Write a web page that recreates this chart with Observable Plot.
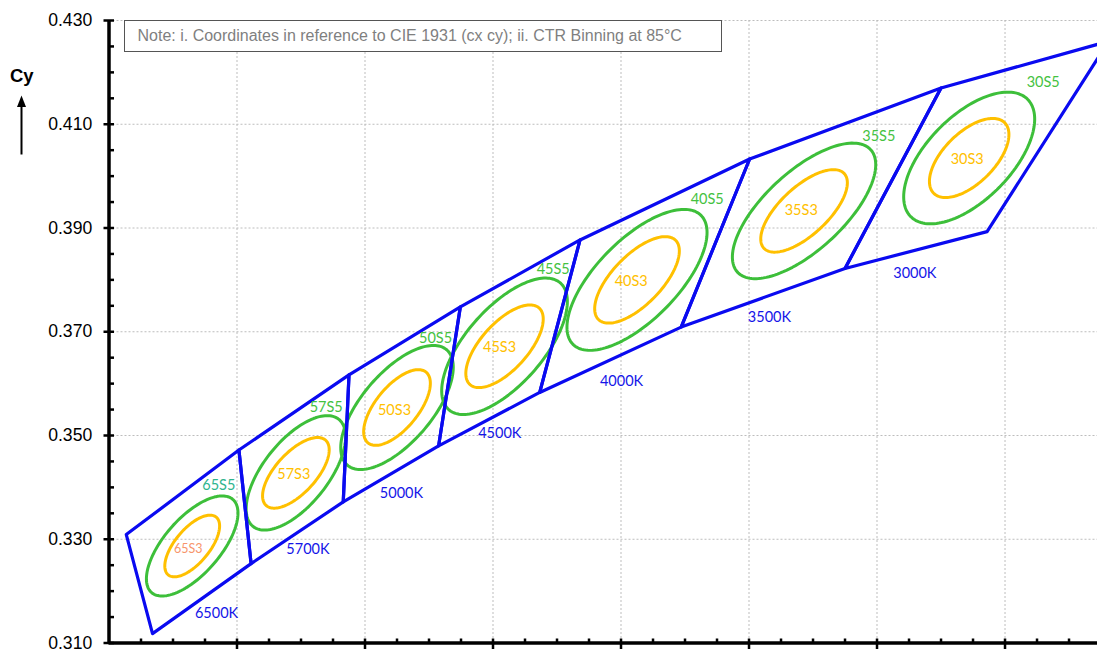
<!DOCTYPE html>
<html>
<head>
<meta charset="utf-8">
<script src="https://cdn.jsdelivr.net/npm/d3@7"></script>
<script src="https://cdn.jsdelivr.net/npm/@observablehq/plot@0.6"></script>
<style>
  html, body { margin: 0; padding: 0; background: #fff; }
  #chart { position: relative; width: 1097px; height: 650px; }
</style>
</head>
<body>
<div id="chart"></div>
<script>
// ---------- data ----------
const cctLabels = ["6500K", "5700K", "5000K", "4500K", "4000K", "3500K", "3000K"];
// quadrangle boundary vertices (shared between neighbouring bins), warm side last
const topX = [0.3027, 0.3203, 0.3375, 0.3549, 0.3736, 0.4001, 0.4300, 0.4562];
const topY = [0.3309, 0.3472, 0.3617, 0.3748, 0.3877, 0.4033, 0.4170, 0.4260];
const botX = [0.3068, 0.3222, 0.3366, 0.3515, 0.3673, 0.3894, 0.4150, 0.4372];
const botY = [0.3118, 0.3253, 0.3372, 0.3480, 0.3583, 0.3709, 0.3822, 0.3893];

// ellipse bins
const binCodes = ["65", "57", "50", "45", "40", "35", "30"];
const centerX = [0.3130, 0.3292, 0.3450, 0.3618, 0.3825, 0.4086, 0.4344];
const centerY = [0.3287, 0.3428, 0.3554, 0.3672, 0.3800, 0.3933, 0.4035];
// 3-step ellipses: semi-axes and tilt (degrees)
const a3 = [0.00674, 0.00786, 0.00823, 0.00919, 0.00978, 0.00960, 0.00883];
const b3 = [0.00287, 0.00342, 0.00355, 0.00395, 0.00419, 0.00411, 0.00432];
const t3 = [58.6, 56.3, 59.1, 56.5, 54.6, 51.7, 54.6];
// 5-step ellipses
const a5 = [0.01105, 0.01237, 0.01363, 0.01508, 0.01604, 0.01582, 0.01465];
const b5 = [0.00471, 0.00538, 0.00588, 0.00648, 0.00687, 0.00677, 0.00716];
const t5 = [57.4, 59.8, 57.9, 57.2, 54.0, 51.4, 55.1];

// label positions
const s5LabelX = [0.31716, 0.33394, 0.35102, 0.36941, 0.39347, 0.42028, 0.44597];
const s5LabelY = [0.34045, 0.35542, 0.36880, 0.38198, 0.39548, 0.40763, 0.41798];
const s3LabelX = [0.31238, 0.32888, 0.34461, 0.36102, 0.38159, 0.40816, 0.43409];
const s3LabelY = [0.32817, 0.34244, 0.35492, 0.36699, 0.37972, 0.39349, 0.40319];
const cctLabelX = [0.31680, 0.33109, 0.34570, 0.36106, 0.38008, 0.40320, 0.42591];
const cctLabelY = [0.31569, 0.32798, 0.33883, 0.35036, 0.36047, 0.37278, 0.38134];

// axes
const xDomain = [0.30, 0.45445];
const yDomain = [0.31, 0.43];
const xMajor = [0.32, 0.34, 0.36, 0.38, 0.40, 0.42, 0.44];
const yMajor = [0.310, 0.330, 0.350, 0.370, 0.390, 0.410, 0.430];
const yTickLabels = ["0.310", "0.330", "0.350", "0.370", "0.390", "0.410", "0.430"];
const xMinor = d3.range(0.305, 0.4545, 0.005).filter(v => Math.abs(v / 0.02 - Math.round(v / 0.02)) > 0.01);
const yMinor = d3.range(0.315, 0.43, 0.005).filter(v => Math.abs((v - 0.31) / 0.02 - Math.round((v - 0.31) / 0.02)) > 0.01);

const noteText = "Note: i. Coordinates in reference to CIE 1931 (cx cy); ii. CTR Binning at 85°C";

// ---------- colours ----------
const BLUE = "#0a0af0";
const GREEN = "#3dbf3a";
const ORANGE = "#ffc000";

// ---------- derived tables ----------
const quadRows = [];
cctLabels.forEach((c, i) => {
  quadRows.push({id: c, x: topX[i], y: topY[i]});
  quadRows.push({id: c, x: topX[i + 1], y: topY[i + 1]});
  quadRows.push({id: c, x: botX[i + 1], y: botY[i + 1]});
  quadRows.push({id: c, x: botX[i], y: botY[i]});
});

function ellipseRows(a, b, t, suffix) {
  const rows = [];
  binCodes.forEach((code, i) => {
    const th = t[i] * Math.PI / 180;
    for (let k = 0; k < 144; k++) {
      const u = 2 * Math.PI * k / 144;
      rows.push({
        id: code + suffix,
        x: centerX[i] + a[i] * Math.cos(u) * Math.cos(th) - b[i] * Math.sin(u) * Math.sin(th),
        y: centerY[i] + a[i] * Math.cos(u) * Math.sin(th) + b[i] * Math.sin(u) * Math.cos(th)
      });
    }
  });
  return rows;
}
const e3 = ellipseRows(a3, b3, t3, "S3");
const e5 = ellipseRows(a5, b5, t5, "S5");

const s5Labels = binCodes.map((c, i) => ({t: c + "S5", x: s5LabelX[i], y: s5LabelY[i]}));
const s3Labels = binCodes.map((c, i) => ({t: c + "S3", x: s3LabelX[i], y: s3LabelY[i]}));
const cctLab = cctLabels.map((c, i) => ({t: c, x: cctLabelX[i], y: cctLabelY[i]}));

const labelFont = "Lato, 'Open Sans', sans-serif";

const svg = Plot.plot({
  width: 1097,
  height: 650,
  marginLeft: 108.5,
  marginRight: 0,
  marginTop: 20,
  marginBottom: 7.5,
  x: {domain: xDomain, axis: null},
  y: {domain: yDomain, axis: null},
  style: {background: "white"},
  marks: [
    // grid
    Plot.ruleX(xMajor, {stroke: "#bdbdbd", strokeWidth: 1, strokeDasharray: "2,2"}),
    Plot.ruleY(yMajor.filter(v => v > 0.311), {stroke: "#bdbdbd", strokeWidth: 1, strokeDasharray: "2,2"}),
    // ellipses
    Plot.line(e5, {x: "x", y: "y", z: "id", stroke: GREEN, strokeWidth: 3, curve: "linear-closed"}),
    Plot.line(e3, {x: "x", y: "y", z: "id", stroke: ORANGE, strokeWidth: 3, curve: "linear-closed"}),
    // quadrangles
    Plot.line(quadRows, {x: "x", y: "y", z: "id", stroke: BLUE, strokeWidth: 3.2, curve: "linear-closed", clip: true}),
    // labels
    Plot.text(s5Labels, {x: "x", y: "y", text: "t", fill: (d, i) => i === 0 ? "#2fb48e" : "#45c23f", fontSize: 14.5, fontFamily: labelFont, lineAnchor: "middle"}),
    Plot.text(s3Labels, {x: "x", y: "y", text: "t", fill: (d, i) => i === 0 ? "#f7956c" : ORANGE, fontSize: (d, i) => i === 0 ? 12.5 : 14.5, fontFamily: labelFont, lineAnchor: "middle"}),
    Plot.text(cctLab, {x: "x", y: "y", text: "t", fill: "#1515e8", fontSize: 14.5, fontFamily: labelFont, lineAnchor: "middle"}),
    // axes lines
    Plot.ruleX([xDomain[0]], {stroke: "black", strokeWidth: 3.5}),
    Plot.ruleY([yDomain[0]], {stroke: "black", strokeWidth: 3.5}),
    // y ticks
    Plot.ruleY(yMajor, {x1: xDomain[0], x2: xDomain[0], insetLeft: -5, insetRight: -5.5, stroke: "black", strokeWidth: 2.5}),
    Plot.ruleY(yMinor, {x1: xDomain[0], x2: xDomain[0], insetLeft: 0, insetRight: -5.5, stroke: "black", strokeWidth: 2.5}),
    // x ticks
    Plot.ruleX(xMajor, {y1: yDomain[0], y2: yDomain[0], insetTop: -4, insetBottom: -6.5, stroke: "black", strokeWidth: 2.5}),
    Plot.ruleX(xMinor, {y1: yDomain[0], y2: yDomain[0], insetTop: -4, insetBottom: 0, stroke: "black", strokeWidth: 2.5}),
    // y tick labels
    Plot.text(yMajor, {x: xDomain[0], y: d => d, text: (d, i) => yTickLabels[i], textAnchor: "end", dx: -16.8, fontSize: 17.6, fontFamily: "'Liberation Sans', Arial, sans-serif", fill: "black", lineAnchor: "middle"})
  ]
});

document.getElementById("chart").appendChild(svg);

// decorations drawn into the same svg
const s = d3.select(svg);
// note box
s.append("rect").attr("x", 124.5).attr("y", 20.5).attr("width", 597).attr("height", 31)
  .attr("fill", "white").attr("stroke", "#555").attr("stroke-width", 1);
s.append("text").attr("x", 137.5).attr("y", 40.8).attr("text-anchor", "start")
  .attr("font-family", "'Liberation Sans', Arial, sans-serif").attr("font-size", 16)
  .attr("fill", "#7f7f7f").text(noteText);
// axis title "Cy" with arrow
s.append("text").attr("x", 21.8).attr("y", 81.7).attr("text-anchor", "middle")
  .attr("font-family", "'Liberation Sans', Arial, sans-serif").attr("font-size", 18.5)
  .attr("font-weight", "bold").attr("fill", "black").text("Cy");
s.append("line").attr("x1", 21.5).attr("x2", 21.5).attr("y1", 154.5).attr("y2", 104)
  .attr("stroke", "black").attr("stroke-width", 2);
s.append("path").attr("d", "M21.5,95.5 L17,107 L26,107 Z").attr("fill", "black");
</script>
</body>
</html>
